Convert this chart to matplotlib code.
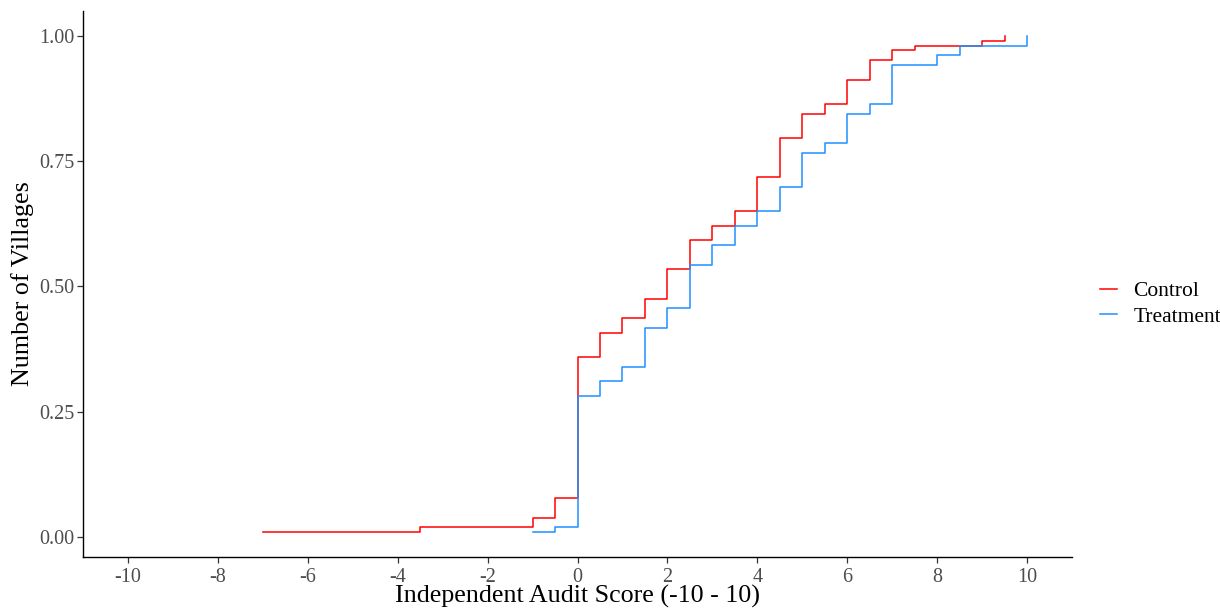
import matplotlib
matplotlib.use("Agg")
import matplotlib.pyplot as plt

plt.rcParams['font.family'] = ['Liberation Serif', 'DejaVu Serif']

# ECDF steps
control_x = [-7, -3.5, -1, -0.5, 0, 0.5, 1, 1.5, 2, 2.5, 3, 3.5, 4, 4.5, 5, 5.5, 6, 6.5, 7, 7.5, 9, 9.5]
control_y = [0.0097, 0.0194, 0.0388, 0.0777, 0.3592, 0.4078, 0.4369, 0.4757, 0.5340, 0.5922, 0.6214,
             0.6505, 0.7184, 0.7961, 0.8447, 0.8641, 0.9126, 0.9515, 0.9709, 0.9806, 0.9903, 1.0]

treat_x = [-1, -0.5, 0, 0.5, 1, 1.5, 2, 2.5, 3, 3.5, 4, 4.5, 5, 5.5, 6, 6.5, 7, 8, 8.5, 10]
treat_y = [0.0097, 0.0194, 0.2816, 0.3107, 0.3398, 0.4175, 0.4563, 0.5437, 0.5825, 0.6214, 0.6505,
           0.6990, 0.7670, 0.7864, 0.8447, 0.8641, 0.9417, 0.9612, 0.9806, 1.0]

x_ticks = [-10, -8, -6, -4, -2, 0, 2, 4, 6, 8, 10]
y_ticks = [0.0, 0.25, 0.5, 0.75, 1.0]

fig = plt.figure(figsize=(12.2, 6.09), dpi=100)
ax = fig.add_axes([83/1220, 1-557/609, (1072-83)/1220, (557-11)/609])

ax.step(control_x, control_y, where='post', color='#FF0000', lw=1.1, label='Control')
ax.step(treat_x, treat_y, where='post', color='#1E90FF', lw=1.1, label='Treatment')

ax.set_xlim(-11, 11)
ax.set_ylim(-0.0398, 1.0495)
ax.set_xticks(x_ticks)
ax.set_xticklabels([str(t) for t in x_ticks])
ax.set_yticks(y_ticks)
ax.set_yticklabels(['%.2f' % t for t in y_ticks])

for s in ['top', 'right']:
    ax.spines[s].set_visible(False)
for s in ['left', 'bottom']:
    ax.spines[s].set_color('black')
    ax.spines[s].set_linewidth(1.0)
ax.tick_params(axis='both', length=4, width=0.9, color='#333333', labelcolor='#4D4D4D',
               labelsize=14.5)
ax.tick_params(axis='x', pad=4)
ax.tick_params(axis='y', pad=2)

ax.set_xlabel('Independent Audit Score (-10 - 10)', fontsize=18.7)
ax.xaxis.set_label_coords(0.5, -(603 - 557) / 546, transform=ax.transAxes)
ax.xaxis.label.set_va('baseline')
ax.set_ylabel('Number of Villages', fontsize=18.7, labelpad=4)

fig.legend(loc='center left', bbox_to_anchor=(1100/1220, 1-304/609), frameon=False,
           fontsize=15.5, handlelength=0.8, handletextpad=0.75, labelspacing=0.25,
           borderpad=0, borderaxespad=0)

fig.savefig('out.png', dpi=100)
